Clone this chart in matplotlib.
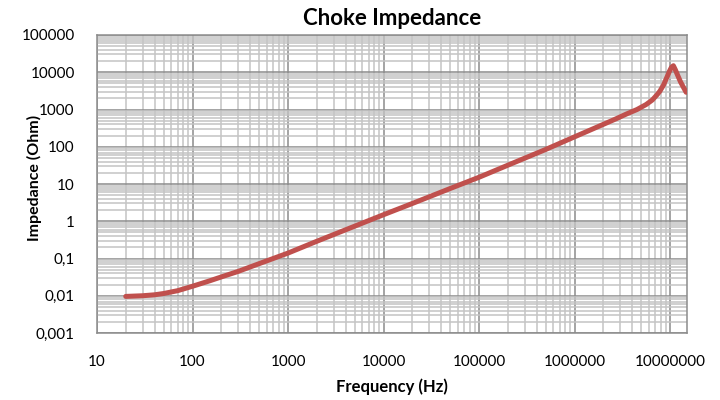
import matplotlib
matplotlib.use("Agg")
import matplotlib.pyplot as plt
from matplotlib.ticker import FixedLocator, FixedFormatter, LogLocator, NullFormatter

# Data
freq_hz = [20, 30, 40, 50, 70, 100, 150, 200, 300, 500, 1000, 2000, 5000,
           10000, 20000, 50000, 100000, 200000, 500000, 1000000, 2000000,
           2700000, 3500000, 4500000, 5600000, 6500000, 7300000, 7800000,
           8500000, 9300000, 9800000, 10300000, 10800000, 11300000, 12000000,
           12800000, 13800000, 14700000]
impedance_ohm = [0.0096, 0.0100, 0.0106, 0.0115, 0.0137, 0.0180, 0.025,
                 0.032, 0.045, 0.073, 0.14, 0.29, 0.74, 1.5, 3.0, 7.6, 15.2,
                 32, 85, 185, 400, 560, 760, 1000, 1360, 1800, 2500, 3100,
                 4500, 7600, 10500, 13500, 15000, 11800, 8200, 5600, 3900,
                 2900]

x_ticks = [10, 100, 1000, 10000, 100000, 1000000, 10000000]
x_tick_labels = ["10", "100", "1000", "10000", "100000", "1000000", "10000000"]
y_ticks = [0.001, 0.01, 0.1, 1, 10, 100, 1000, 10000, 100000]
y_tick_labels = ["0,001", "0,01", "0,1", "1", "10", "100", "1000", "10000", "100000"]

title = "Choke Impedance"
x_label = "Frequency (Hz)"
y_label = "Impedance (Ohm)"

plt.rcParams['font.family'] = ['Lato', 'DejaVu Sans']

fig = plt.figure(figsize=(7.2, 4.0), dpi=100)
W, H = 720, 400
left, right, top, bottom = 97, 687, 35, 333
ax = fig.add_axes([left / W, 1 - bottom / H, (right - left) / W, (bottom - top) / H])

ax.set_xscale('log')
ax.set_yscale('log')
ax.set_xlim(10, 1.5e7)
ax.set_ylim(0.001, 100000)

ax.xaxis.set_major_locator(FixedLocator(x_ticks))
ax.xaxis.set_major_formatter(FixedFormatter(x_tick_labels))
ax.yaxis.set_major_locator(FixedLocator(y_ticks))
ax.yaxis.set_major_formatter(FixedFormatter(y_tick_labels))
ax.xaxis.set_minor_locator(LogLocator(base=10, subs=range(2, 10), numticks=100))
ax.yaxis.set_minor_locator(LogLocator(base=10, subs=range(2, 10), numticks=100))
ax.xaxis.set_minor_formatter(NullFormatter())
ax.yaxis.set_minor_formatter(NullFormatter())

ax.grid(True, which='minor', color='#c4c4c4', linewidth=1.1, zorder=0)
ax.grid(True, which='major', color='#8c8c8c', linewidth=1.1, zorder=0.5)
ax.set_axisbelow(True)

for s in ax.spines.values():
    s.set_color('#8c8c8c')
    s.set_linewidth(1.1)

ax.tick_params(which='both', length=0)
ax.tick_params(axis='x', pad=16, labelsize=11, colors='#000000')
ax.tick_params(axis='y', pad=16, labelsize=11, colors='#000000')

ax.plot(freq_hz, impedance_ohm, color='#c0504d', linewidth=3.6,
        solid_capstyle='round', solid_joinstyle='round', zorder=3)

ax.set_title(title, fontsize=16, fontweight='bold', pad=7)
fig.text((left + right) / 2 / W, 1 - 392 / H, x_label, ha='center', va='baseline',
         fontsize=12, fontweight='bold')
fig.text(34 / W, 1 - 178 / H, y_label, ha='center', va='center', rotation=90,
         fontsize=11.5, fontweight='bold')

fig.savefig("out.png", dpi=100)
